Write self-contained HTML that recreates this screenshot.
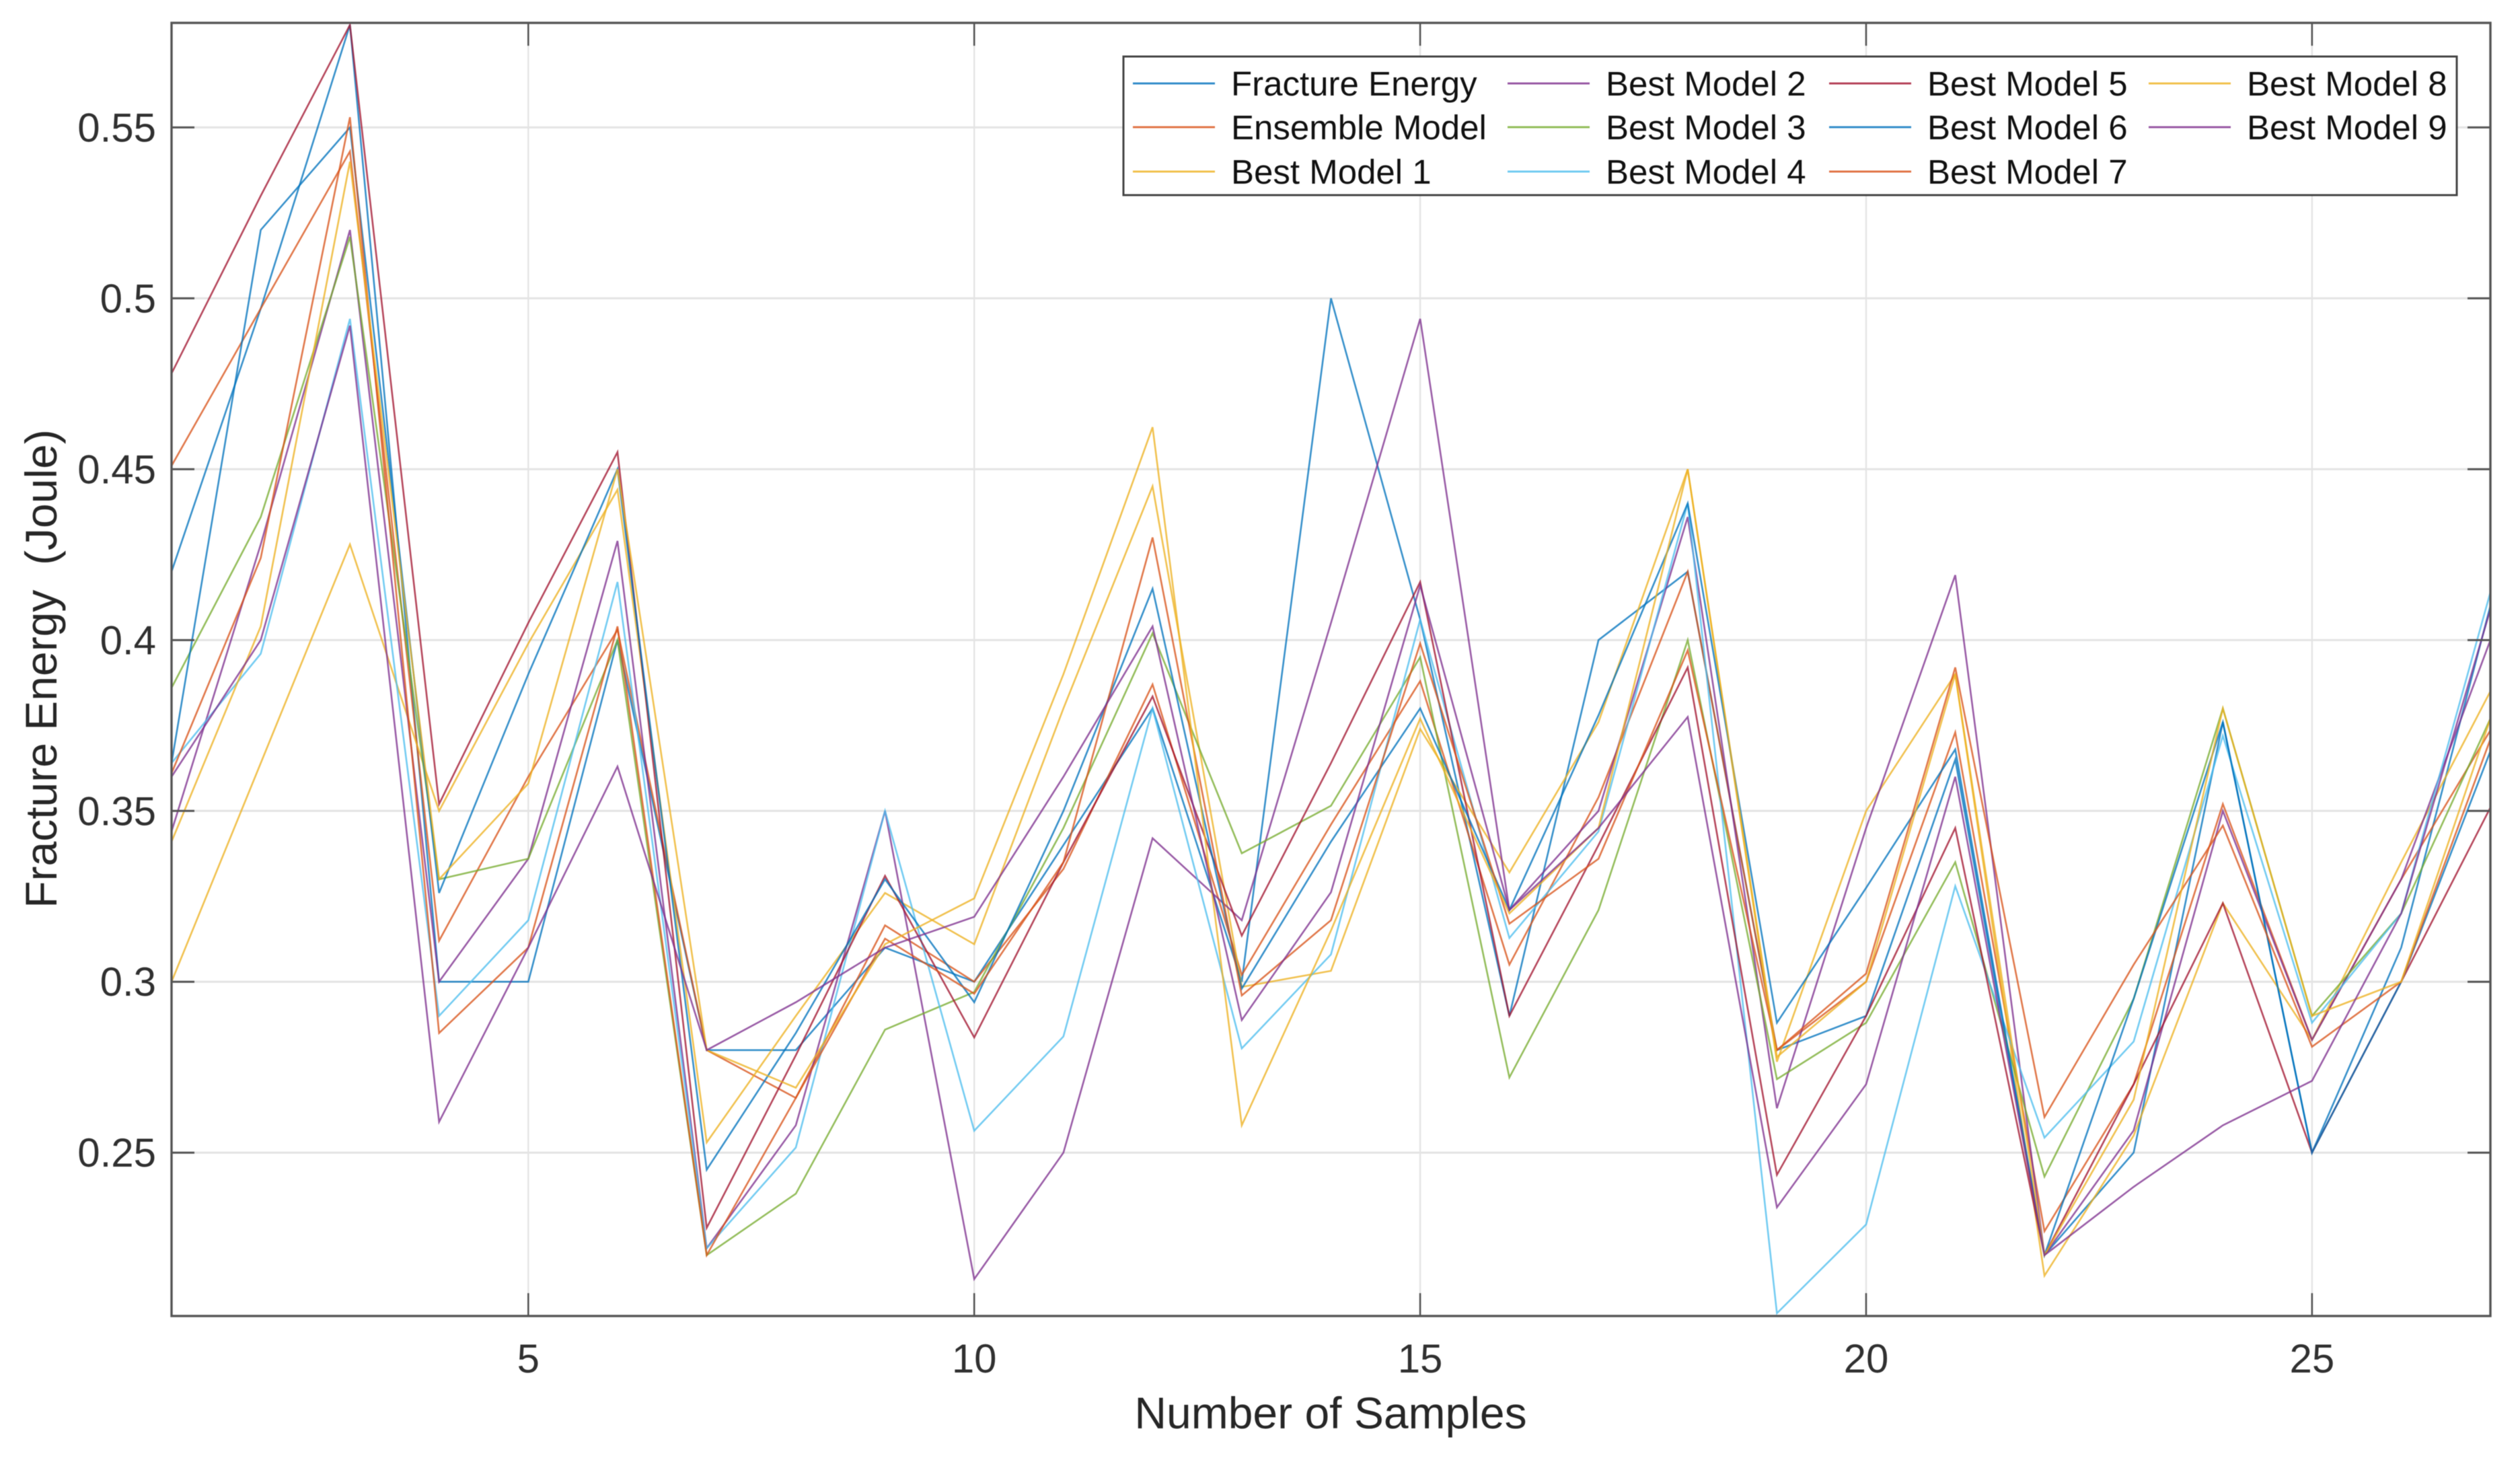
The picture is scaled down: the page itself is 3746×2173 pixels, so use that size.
<!DOCTYPE html>
<html lang="en">
<head>
<meta charset="utf-8">
<title>Fracture Energy Chart</title>
<style>
html,body{margin:0;padding:0;background:#fff;}
body{width:3746px;height:2173px;overflow:hidden;}
svg{display:block;font-family:"Liberation Sans",Arial,sans-serif;filter:blur(0.6px);}
</style>
</head>
<body>
<svg id="chart" xmlns="http://www.w3.org/2000/svg" width="3746" height="2173" viewBox="0 0 3746 2173">
  <rect x="0" y="0" width="3746" height="2173" fill="#ffffff"/>
  <defs><clipPath id="plot-clip"><rect x="255" y="34" width="3447" height="1922"/></clipPath></defs>
  <g id="grid"></g>
  <g id="series" clip-path="url(#plot-clip)"></g>
  <g id="axes"></g>
  <text x="1978" y="2123" font-size="66" text-anchor="middle" fill="#262626">Number of Samples</text>
  <text transform="translate(84,994) rotate(-90)" font-size="66" text-anchor="middle" fill="#262626" xml:space="preserve">Fracture Energy  (Joule)</text>
  <g id="legend"></g>
</svg>
<script>
const sampleNumbers = [1,2,3,4,5,6,7,8,9,10,11,12,13,14,15,16,17,18,19,20,21,22,23,24,25,26,27];
const xTickLabels = [5,10,15,20,25];
const yTickLabels = ['0.25','0.3','0.35','0.4','0.45','0.5','0.55'];
const xDomain = [1,27];
const yDomain = [0.2022,0.5806];

const fractureEnergy = [.42,.497,.58,.30,.30,.40,.28,.28,.31,.30,.34,.38,.30,.50,.406,.29,.40,.42,.28,.29,.365,.22,.25,.376,.25,.31,.41];
const ensembleModel  = [.451,.497,.543,.312,.36,.403,.28,.266,.3165,.30,.333,.387,.302,.346,.388,.305,.354,.42,.28,.30,.373,.227,.27,.352,.283,.33,.3736];
const bestModel1     = [.30,.364,.428,.35,.399,.444,.253,.29,.326,.311,.38,.445,.2985,.3032,.374,.332,.376,.45,.2766,.35,.39,.214,.255,.323,.283,.335,.385];
const bestModel2     = [.344,.428,.52,.30,.336,.429,.222,.258,.35,.213,.25,.342,.318,.405,.494,.321,.35,.436,.263,.345,.419,.22,.2565,.35,.283,.33,.40];
const bestModel3     = [.386,.436,.518,.33,.336,.40,.22,.238,.286,.297,.345,.402,.3376,.3515,.395,.272,.321,.40,.2715,.288,.335,.243,.295,.38,.29,.32,.377];
const bestModel4     = [.364,.396,.494,.29,.318,.417,.222,.2515,.35,.2564,.284,.38,.2805,.308,.406,.3128,.344,.44,.203,.229,.328,.2544,.2825,.372,.288,.32,.414];
const bestModel5     = [.478,.53,.58,.352,.405,.455,.228,.2785,.331,.2837,.335,.3835,.3135,.364,.417,.29,.34,.392,.2435,.29,.345,.22,.27,.323,.25,.30,.351];
const bestModel6     = [.364,.52,.55,.326,.39,.45,.245,.285,.33,.294,.35,.415,.298,.341,.38,.321,.378,.44,.288,.3275,.368,.22,.295,.376,.25,.30,.3675];
const bestModel7     = [.361,.424,.553,.285,.31,.404,.22,.266,.3126,.2965,.335,.43,.296,.318,.399,.317,.336,.397,.28,.3024,.392,.2604,.305,.3457,.281,.30,.371];
const bestModel8     = [.341,.404,.54,.33,.358,.45,.28,.269,.311,.3244,.39,.4623,.258,.315,.377,.32,.345,.45,.278,.30,.39,.22,.2655,.38,.29,.30,.377];
const bestModel9     = [.36,.40,.492,.259,.31,.363,.28,.294,.31,.319,.36,.404,.2888,.3262,.416,.321,.345,.3775,.234,.27,.36,.22,.24,.258,.271,.32,.409];

const seriesNames = ['Fracture Energy','Ensemble Model','Best Model 1','Best Model 2','Best Model 3','Best Model 4','Best Model 5','Best Model 6','Best Model 7','Best Model 8','Best Model 9'];
const seriesValues = [fractureEnergy,ensembleModel,bestModel1,bestModel2,bestModel3,bestModel4,bestModel5,bestModel6,bestModel7,bestModel8,bestModel9];
const seriesColors = ['#0072BD','#D95319','#EDB120','#7E2F8E','#77AC30','#4DBEEE','#A2142F','#0072BD','#D95319','#EDB120','#7E2F8E'];

const plot = {left:255, right:3702, top:34, bottom:1956};
const NS = 'http://www.w3.org/2000/svg';
function xScale(v){return plot.left+(v-xDomain[0])/(xDomain[1]-xDomain[0])*(plot.right-plot.left);}
function yScale(v){return plot.bottom-(v-yDomain[0])/(yDomain[1]-yDomain[0])*(plot.bottom-plot.top);}
function make(tag,attrs,parent,text){
  const el=document.createElementNS(NS,tag);
  for(const k in attrs){el.setAttribute(k,attrs[k]);}
  if(text!==undefined){el.textContent=text;}
  parent.appendChild(el);
  return el;
}
const gridG=document.getElementById('grid');
const axesG=document.getElementById('axes');
const seriesG=document.getElementById('series');
const legendG=document.getElementById('legend');

xTickLabels.forEach(function(t){
  const x=xScale(t);
  const gl=make('line',{x1:x,x2:x,y1:plot.top,y2:plot.bottom,stroke:'#e4e4e4','stroke-width':2.4},gridG);
  
  
  const tb=make('line',{x1:x,x2:x,y1:plot.bottom,y2:plot.bottom-34,stroke:'#555','stroke-width':2.6},axesG);
  
  
  const tt=make('line',{x1:x,x2:x,y1:plot.top,y2:plot.top+34,stroke:'#555','stroke-width':2.6},axesG);
  
  
  const lb=make('text',{x:x,y:2040,'font-size':60,'text-anchor':'middle',fill:'#303030'},axesG,String(t));
  
  
});
yTickLabels.forEach(function(t){
  const y=yScale(parseFloat(t));
  const gl=make('line',{x1:plot.left,x2:plot.right,y1:y,y2:y,stroke:'#e4e4e4','stroke-width':3},gridG);
  
  
  const tl=make('line',{x1:plot.left,x2:plot.left+34,y1:y,y2:y,stroke:'#555','stroke-width':3},axesG);
  
  
  const tr=make('line',{x1:plot.right,x2:plot.right-34,y1:y,y2:y,stroke:'#555','stroke-width':3},axesG);
  
  
  const lb=make('text',{x:232,y:y+21,'font-size':60,'text-anchor':'end',fill:'#303030'},axesG,t);
  
  
});
const frame=make('rect',{x:plot.left,y:plot.top,width:plot.right-plot.left,height:plot.bottom-plot.top,fill:'none',stroke:'#555','stroke-width':3.4},axesG);



seriesValues.forEach(function(vals,i){
  const pts=vals.map(function(v,j){return xScale(sampleNumbers[j]).toFixed(1)+','+yScale(v).toFixed(1);}).join(' ');
  const pl=make('polyline',{points:pts,fill:'none',stroke:seriesColors[i],'stroke-width':2.6,'stroke-opacity':0.78,'stroke-linejoin':'miter'},seriesG);
  
  
});

const legendBox=make('rect',{x:1670,y:84,width:1982,height:206,fill:'#fff',stroke:'#444','stroke-width':3},legendG);


const legendCols=[1684,2241,2719,3194];
const legendRows=[124,189,255];
seriesNames.forEach(function(name,i){
  const col=i<3?0:i<6?1:i<9?2:3;
  const row=i<9?i%3:i-9;
  const lx=legendCols[col];
  const ly=legendRows[row];
  const sw=make('line',{x1:lx,x2:lx+122,y1:ly,y2:ly,stroke:seriesColors[i],'stroke-width':3,'stroke-opacity':0.8},legendG);
  
  
  const tx=make('text',{x:lx+146,y:ly+18,'font-size':51,fill:'#111'},legendG,name);
  
  
});
</script>
</body>
</html>
